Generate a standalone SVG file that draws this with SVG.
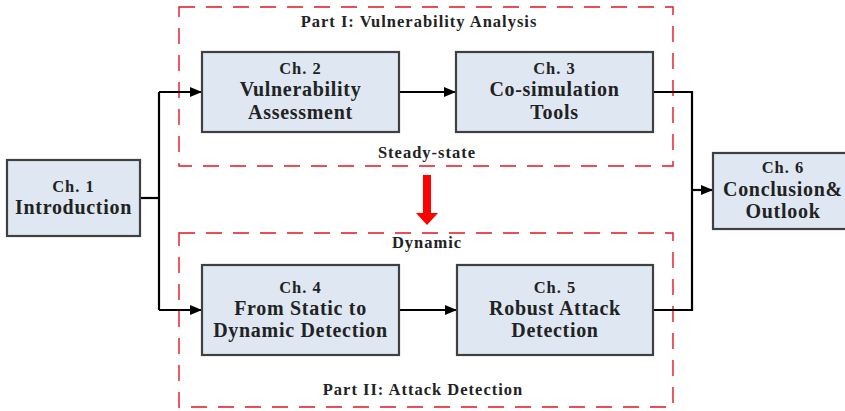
<svg xmlns="http://www.w3.org/2000/svg" width="845" height="411" viewBox="0 0 845 411">
<defs>
<style>
.box{fill:#dfe8f2;stroke:#404040;stroke-width:2.2}
.part{fill:none;stroke:#e5141e;stroke-width:1.4;stroke-dasharray:16,11}
.t{font-family:"Liberation Serif","Times New Roman","DejaVu Serif",serif;font-weight:bold;fill:#222;text-anchor:middle}
.ch{font-size:16.5px;letter-spacing:1px}
.main{font-size:20px;letter-spacing:0.7px}
.lbl{font-size:16.5px;letter-spacing:1px}
.con{fill:none;stroke:#000;stroke-width:2.2}
</style>
<marker id="ah" viewBox="0 0 12 10" refX="12" refY="5" markerWidth="12" markerHeight="10" markerUnits="userSpaceOnUse" orient="auto">
<path d="M0,0 L12,5 L0,10 Z" fill="#000"/>
</marker>
</defs>
<rect width="845" height="411" fill="#fff"/>
<g id="part1">
<rect class="part" x="179" y="7" width="494" height="159"/>
<text class="t lbl" x="419" y="27" font-family="Liberation Serif, serif">Part I: Vulnerability Analysis</text>
<text class="t lbl" x="427" y="158" font-family="Liberation Serif, serif">Steady-state</text>
</g>
<g id="part2">
<rect class="part" x="179" y="233" width="494" height="174"/>
<text class="t lbl" x="427" y="248" font-family="Liberation Serif, serif">Dynamic</text>
<text class="t lbl" x="423" y="395" font-family="Liberation Serif, serif">Part II: Attack Detection</text>
</g>
<g id="transition">
<path d="M423,175 H431 V213 H438 L427,225 L416,213 H423 Z" fill="#ff0000"/>
</g>
<g id="connectors">
<path class="con" d="M140,198 H159"/>
<path class="con" d="M159,92 V310"/>
<path class="con" d="M159,92 H202" marker-end="url(#ah)"/>
<path class="con" d="M159,310 H202" marker-end="url(#ah)"/>
<path class="con" d="M399,92 H456" marker-end="url(#ah)"/>
<path class="con" d="M399,310 H457" marker-end="url(#ah)"/>
<path class="con" d="M653,92 H692 V310 H653"/>
<path class="con" d="M692,190 H713" marker-end="url(#ah)"/>
</g>
<g id="ch1">
<rect class="box" x="7" y="160" width="133" height="76"/>
<text class="t ch" x="73.5" y="192">Ch. 1</text>
<text class="t main" x="73.5" y="214">Introduction</text>
</g>
<g id="ch2">
<rect class="box" x="202" y="52" width="197" height="80"/>
<text class="t ch" x="300.5" y="74">Ch. 2</text>
<text class="t main" x="300.5" y="96">Vulnerability</text>
<text class="t main" x="300.5" y="119">Assessment</text>
</g>
<g id="ch3">
<rect class="box" x="456" y="52" width="197" height="80"/>
<text class="t ch" x="554.5" y="74">Ch. 3</text>
<text class="t main" x="554.5" y="96">Co-simulation</text>
<text class="t main" x="554.5" y="119">Tools</text>
</g>
<g id="ch4">
<rect class="box" x="202" y="265" width="197" height="90"/>
<text class="t ch" x="300.5" y="293">Ch. 4</text>
<text class="t main" x="300.5" y="315">From Static to</text>
<text class="t main" x="300.5" y="337">Dynamic Detection</text>
</g>
<g id="ch5">
<rect class="box" x="457" y="265" width="196" height="90"/>
<text class="t ch" x="555" y="293">Ch. 5</text>
<text class="t main" x="555" y="315">Robust Attack</text>
<text class="t main" x="555" y="337">Detection</text>
</g>
<g id="ch6">
<rect class="box" x="713" y="153" width="140" height="76"/>
<text class="t ch" x="783" y="173">Ch. 6</text>
<text class="t main" x="783" y="196">Conclusion&amp;</text>
<text class="t main" x="783" y="218">Outlook</text>
</g>
</svg>
